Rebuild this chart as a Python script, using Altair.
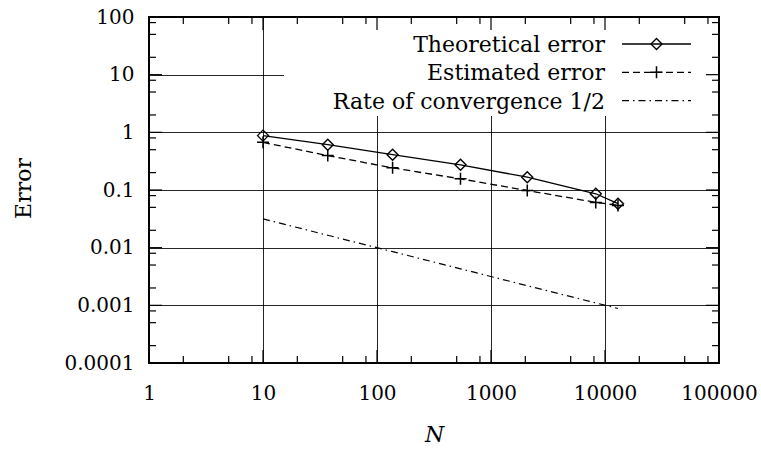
import altair as alt
import pandas as pd

# Grid sizes N and the corresponding error values
N = [10, 37, 137, 540, 2080, 8300, 13000]
theoretical = [0.877, 0.61, 0.41, 0.273, 0.167, 0.086, 0.058]
estimated = [0.67, 0.395, 0.242, 0.156, 0.098, 0.061, 0.054]
rate_half = [0.0316, 0.0164, 0.00854, 0.0043, 0.00219, 0.0011, 0.00088]

legend_labels = ["Theoretical error", "Estimated error", "Rate of convergence 1/2"]

# Tick positions (log axes)
x_major = [1, 10, 100, 1000, 10000, 100000]
x_minor = [2, 5, 8, 20, 50, 80, 200, 500, 800, 2000, 5000, 8000, 20000, 50000, 80000]
y_major = [0.0001, 0.001, 0.01, 0.1, 1, 10, 100]
y_minor = [0.0002, 0.0005, 0.0008, 0.002, 0.005, 0.008, 0.02, 0.05, 0.08,
           0.2, 0.5, 0.8, 2, 5, 8, 20, 50, 80]

W, H = 570, 346
SERIF = "DejaVu Serif"

df = pd.DataFrame({"N": N, "theo": theoretical, "est": estimated, "rate": rate_half})

xscale = alt.Scale(type="log", domain=[1, 100000], nice=False)
yscale = alt.Scale(type="log", domain=[0.0001, 100], nice=False)

x_axis = alt.Axis(
    values=x_major, format="~g", grid=True, gridColor="black", gridWidth=1,
    gridOpacity=0.85, ticks=False, tickSize=0, domain=False, labelFlush=False,
    labelFont=SERIF, labelFontSize=20, labelColor="black", labelPadding=20,
    title="N", titleFont=SERIF, titleFontSize=22, titleFontStyle="italic",
    titleFontWeight="normal", titleColor="black", titleX=285, titleY=71,
    titleBaseline="middle", titleAlign="center",
)
y_axis = alt.Axis(
    values=y_major, format="~g", grid=True, gridColor="black", gridWidth=1,
    gridOpacity=0.85, ticks=False, tickSize=0, domain=False, labelFlush=False,
    labelFont=SERIF, labelFontSize=20, labelColor="black", labelPadding=15,
    title="Error", titleFont=SERIF, titleFontSize=22, titleFontWeight="normal",
    titleColor="black", titleX=-126, titleY=171, titleAngle=-90,
    titleBaseline="middle", titleAlign="center",
)


def X(field):
    return alt.X(field, type="quantitative", scale=xscale, axis=x_axis)


def Y(field):
    return alt.Y(field, type="quantitative", scale=yscale, axis=y_axis)


base = alt.Chart(df)
PLUS = "M-1,0L1,0M0,-1L0,1"

theo_line = base.mark_line(color="black", strokeWidth=1.3).encode(x=X("N"), y=Y("theo"))
theo_pts = base.mark_point(shape="diamond", size=121, filled=False, color="black",
                           strokeWidth=1.4, opacity=1).encode(x=X("N"), y=Y("theo"))
est_line = base.mark_line(color="black", strokeWidth=1.3,
                          strokeDash=[7, 4]).encode(x=X("N"), y=Y("est"))
est_pts = base.mark_point(shape=PLUS, size=144, filled=False, color="black",
                          strokeWidth=1.5, opacity=1).encode(x=X("N"), y=Y("est"))
rate_line = base.mark_line(color="black", strokeWidth=1.2,
                           strokeDash=[7, 4, 1.5, 4]).encode(x=X("N"), y=Y("rate"))

one = alt.Data(values=[{}])

# White key box that hides the grid beneath it
key_box = alt.Chart(one).mark_rect(fill="white").encode(
    x=alt.value(135), x2=alt.value(W), y=alt.value(0), y2=alt.value(99)
)


# Inward ticks on all four sides
def x_ticks(values, length):
    d = alt.Chart(pd.DataFrame({"N": values}))
    bottom = d.mark_rule(color="black", strokeWidth=1.2).encode(
        x=X("N"), y=alt.value(H), y2=alt.value(H - length))
    top = d.mark_rule(color="black", strokeWidth=1.2).encode(
        x=X("N"), y=alt.value(0), y2=alt.value(length))
    return [bottom, top]


def y_ticks(values, length):
    d = alt.Chart(pd.DataFrame({"theo": values}))
    left = d.mark_rule(color="black", strokeWidth=1.2).encode(
        y=Y("theo"), x=alt.value(0), x2=alt.value(length))
    right = d.mark_rule(color="black", strokeWidth=1.2).encode(
        y=Y("theo"), x=alt.value(W - length), x2=alt.value(W))
    return [left, right]


ticks = x_ticks(x_major, 13) + x_ticks(x_minor, 7) + y_ticks(y_major, 13) + y_ticks(y_minor, 7)

frame = alt.Chart(one).mark_rect(fillOpacity=0, stroke="black", strokeWidth=2).encode(
    x=alt.value(0), x2=alt.value(W), y=alt.value(0), y2=alt.value(H)
)

# Key entries: label, sample line and marker
rows_y = [27, 55.3, 83.7]
key_layers = []
dashes = [None, [7, 4], [7, 4, 1.5, 4]]
for label, yy, dash in zip(legend_labels, rows_y, dashes):
    key_layers.append(
        alt.Chart(one).mark_text(font=SERIF, fontSize=22, align="right",
                                 baseline="alphabetic", color="black").encode(
            x=alt.value(456), y=alt.value(yy + 8), text=alt.value(label))
    )
    rule_kw = dict(color="black", strokeWidth=1.3)
    if dash is not None:
        rule_kw["strokeDash"] = dash
    key_layers.append(
        alt.Chart(one).mark_rule(**rule_kw).encode(
            x=alt.value(473), x2=alt.value(542), y=alt.value(yy))
    )
key_layers.append(
    alt.Chart(one).mark_point(shape="diamond", size=121, filled=False, color="black",
                              strokeWidth=1.4, opacity=1).encode(
        x=alt.value(507.5), y=alt.value(rows_y[0]))
)
key_layers.append(
    alt.Chart(one).mark_point(shape=PLUS, size=144, filled=False, color="black",
                              strokeWidth=1.5, opacity=1).encode(
        x=alt.value(507.5), y=alt.value(rows_y[1]))
)

chart = alt.layer(
    theo_line, est_line, rate_line, theo_pts, est_pts, key_box,
    *ticks, frame, *key_layers
).properties(
    width=W, height=H,
    padding={"left": 149, "top": 17, "right": 42, "bottom": 88},
    autosize=alt.AutoSizeParams(type="none"),
    background="white",
).configure_view(stroke=None)

chart.save("out.html", embed_options={"renderer": "svg", "actions": False})
